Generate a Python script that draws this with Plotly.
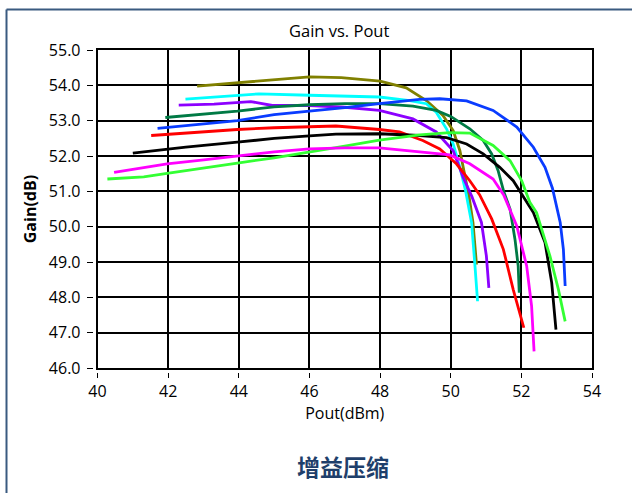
import plotly.graph_objects as go

# ---- data (Pout dBm, Gain dB) ----
olive_x = [42.82, 44.0, 45.0, 46.0, 46.9, 47.7, 48.0, 48.74, 49.31, 49.78, 50.07, 50.26, 50.40, 50.52, 50.63, 50.73]
olive_y = [53.98, 54.08, 54.17, 54.24, 54.22, 54.14, 54.12, 53.93, 53.57, 53.15, 52.72, 52.15, 51.40, 50.85, 50.12, 48.93]

cyan_x = [42.49, 43.96, 44.57, 46.0, 47.0, 47.98, 48.84, 49.31, 49.59, 49.88, 50.07, 50.26, 50.42, 50.59, 50.68, 50.76]
cyan_y = [53.61, 53.72, 53.76, 53.72, 53.70, 53.67, 53.57, 53.48, 53.24, 52.77, 52.34, 51.68, 51.02, 50.12, 48.98, 47.89]

purple_x = [42.30, 43.3, 44.34, 44.95, 46.0, 47.0, 47.98, 48.93, 49.59, 50.07, 50.35, 50.6, 50.87, 51.01, 51.08]
purple_y = [53.44, 53.47, 53.54, 53.43, 53.43, 53.38, 53.29, 53.05, 52.68, 52.15, 51.40, 50.85, 50.12, 49.17, 48.27]

dgreen_x = [41.92, 43.0, 43.96, 45.0, 46.0, 47.0, 47.98, 48.93, 49.59, 50.0, 50.54, 50.92, 51.16, 51.34, 51.5, 51.68, 51.82, 51.91, 51.94]
dgreen_y = [53.09, 53.18, 53.27, 53.39, 53.45, 53.48, 53.48, 53.41, 53.29, 53.12, 52.77, 52.44, 52.06, 51.59, 51.0, 50.5, 49.64, 48.89, 48.13]

blue_x = [41.70, 43.96, 45.0, 46.0, 47.0, 47.98, 49.12, 49.69, 50.45, 51.2, 51.87, 52.34, 52.67, 52.88, 53.1, 53.19, 53.24]
blue_y = [52.78, 53.0, 53.17, 53.26, 53.37, 53.48, 53.60, 53.62, 53.56, 53.29, 52.82, 52.25, 51.68, 51.09, 50.12, 49.36, 48.32]

red_x = [41.52, 42.8, 43.96, 45.0, 46.0, 46.75, 47.98, 48.55, 49.21, 49.69, 50.16, 50.54, 50.82, 51.16, 51.49, 51.77, 52.07]
red_y = [52.58, 52.67, 52.75, 52.80, 52.83, 52.85, 52.75, 52.68, 52.44, 52.2, 51.78, 51.3, 50.9, 50.22, 49.36, 48.22, 47.14]

black_x = [41.0, 42.5, 43.96, 45.0, 46.0, 46.75, 47.98, 49.12, 49.88, 50.45, 50.92, 51.39, 51.77, 52.05, 52.34, 52.67, 52.86, 52.98]
black_y = [52.08, 52.25, 52.39, 52.50, 52.57, 52.62, 52.63, 52.58, 52.52, 52.34, 52.06, 51.68, 51.3, 50.85, 50.40, 49.55, 48.41, 47.09]

lime_x = [40.28, 41.31, 41.97, 43.0, 43.96, 45.0, 46.0, 47.0, 47.98, 49.12, 49.97, 50.54, 51.2, 51.68, 52.01, 52.24, 52.43, 52.81, 53.05, 53.24]
lime_y = [51.35, 51.41, 51.51, 51.65, 51.8, 51.95, 52.11, 52.28, 52.45, 52.6, 52.66, 52.65, 52.3, 51.87, 51.3, 50.69, 50.40, 49.17, 48.22, 47.32]

magenta_x = [40.47, 41.97, 43.01, 43.96, 45.0, 46.0, 47.0, 47.98, 48.84, 49.97, 50.54, 51.2, 51.5, 51.87, 52.15, 52.29, 52.36]
magenta_y = [51.54, 51.78, 51.89, 52.01, 52.12, 52.20, 52.23, 52.23, 52.15, 52.03, 51.78, 51.35, 50.9, 50.02, 48.89, 47.75, 46.47]

x_ticks = [40, 42, 44, 46, 48, 50, 52, 54]
y_ticks = [46, 47, 48, 49, 50, 51, 52, 53, 54, 55]

series = [
    (olive_x, olive_y, "#808000"),
    (cyan_x, cyan_y, "#00FFFF"),
    (purple_x, purple_y, "#8C00FF"),
    (dgreen_x, dgreen_y, "#007A45"),
    (blue_x, blue_y, "#0A3CFF"),
    (red_x, red_y, "#FF0000"),
    (black_x, black_y, "#000000"),
    (lime_x, lime_y, "#33FF33"),
    (magenta_x, magenta_y, "#FF00FF"),
]

fig = go.Figure()
for xs, ys, c in series:
    fig.add_trace(go.Scatter(x=xs, y=ys, mode="lines",
                             line=dict(color=c, width=2.8), showlegend=False,
                             hoverinfo="skip"))
# empty helper trace so the detached-tick axes get drawn
fig.add_trace(go.Scatter(x=[], y=[], xaxis="x2", yaxis="y2", mode="lines",
                         showlegend=False, hoverinfo="skip"))

FONT = "Open Sans"
W, H = 632, 493
# plot-area pixel box
L, R, T, B = 97.5, 592, 49.5, 368.5
ml, mr, mt, mb = 60, W - R, T, H - B - 12
pw = W - ml - mr
ph = H - mt - mb
xd0 = (L - ml) / pw
yd0 = (H - mb - B) / ph

def px_x(px):
    return (px - ml) / pw

def px_y(py):
    return (H - mb - py) / ph

fig.update_layout(
    width=W, height=H,
    margin=dict(l=ml, r=mr, t=mt, b=mb, pad=0),
    paper_bgcolor="white", plot_bgcolor="white",
    font=dict(family=FONT, size=16, color="#000000"),
    showlegend=False,
    xaxis=dict(domain=[xd0, 1], range=[40, 54], tickvals=x_ticks,
               showgrid=True, gridcolor="#000000", gridwidth=1.6,
               showline=True, linecolor="#000000", linewidth=1.6, mirror=True,
               ticks="", ticklabelstandoff=8, zeroline=False,
               tickfont=dict(size=16),
               title=dict(text="Pout(dBm)", font=dict(size=16), standoff=6)),
    yaxis=dict(domain=[yd0, 1], range=[46, 55], tickvals=y_ticks, tickformat=".1f",
               showgrid=True, gridcolor="#000000", gridwidth=1.6,
               showline=True, linecolor="#000000", linewidth=1.6, mirror=True,
               ticks="", ticklabelstandoff=12, zeroline=False,
               tickfont=dict(size=16),
               title=dict(text="<b>Gain(dB)</b>", font=dict(size=16), standoff=8)),
    xaxis2=dict(overlaying="x", anchor="free", position=px_y(372.5), side="bottom",
                range=[40, 54], tickvals=x_ticks, showticklabels=False,
                ticks="outside", ticklen=4.5, tickwidth=1.4, tickcolor="#000000",
                showline=False, showgrid=False, zeroline=False),
    yaxis2=dict(overlaying="y", anchor="free", position=px_x(93.3), side="left",
                range=[46, 55], tickvals=y_ticks, showticklabels=False,
                ticks="outside", ticklen=6.5, tickwidth=1.4, tickcolor="#000000",
                showline=False, showgrid=False, zeroline=False),
)

# Title
fig.add_annotation(text="Gain vs. Pout", xref="paper", yref="paper",
                   x=px_x(339), y=px_y(30),
                   showarrow=False, font=dict(size=16.5, family=FONT, color="#000000"),
                   xanchor="center", yanchor="middle")
# Chinese caption
fig.add_annotation(text="<b>增益压缩</b>", xref="paper", yref="paper",
                   x=px_x(343), y=px_y(467),
                   showarrow=False,
                   font=dict(size=23, family="Noto Sans CJK SC", color="#1F3F6B"),
                   xanchor="center", yanchor="middle")

# outer frame (top and left borders)
fx0 = px_x(6.5)
fx1 = px_x(633)
fy_top = px_y(9)
fy_bot = px_y(494)
fig.add_shape(type="line", xref="paper", yref="paper", x0=fx0, x1=fx1, y0=fy_top, y1=fy_top,
              line=dict(color="#3A5A80", width=2))
fig.add_shape(type="line", xref="paper", yref="paper", x0=fx0, x1=fx0, y0=fy_top, y1=fy_bot,
              line=dict(color="#3A5A80", width=2))

fig.write_html("out.html", config={"displayModeBar": False},
               post_script="document.body.style.margin='0';")
